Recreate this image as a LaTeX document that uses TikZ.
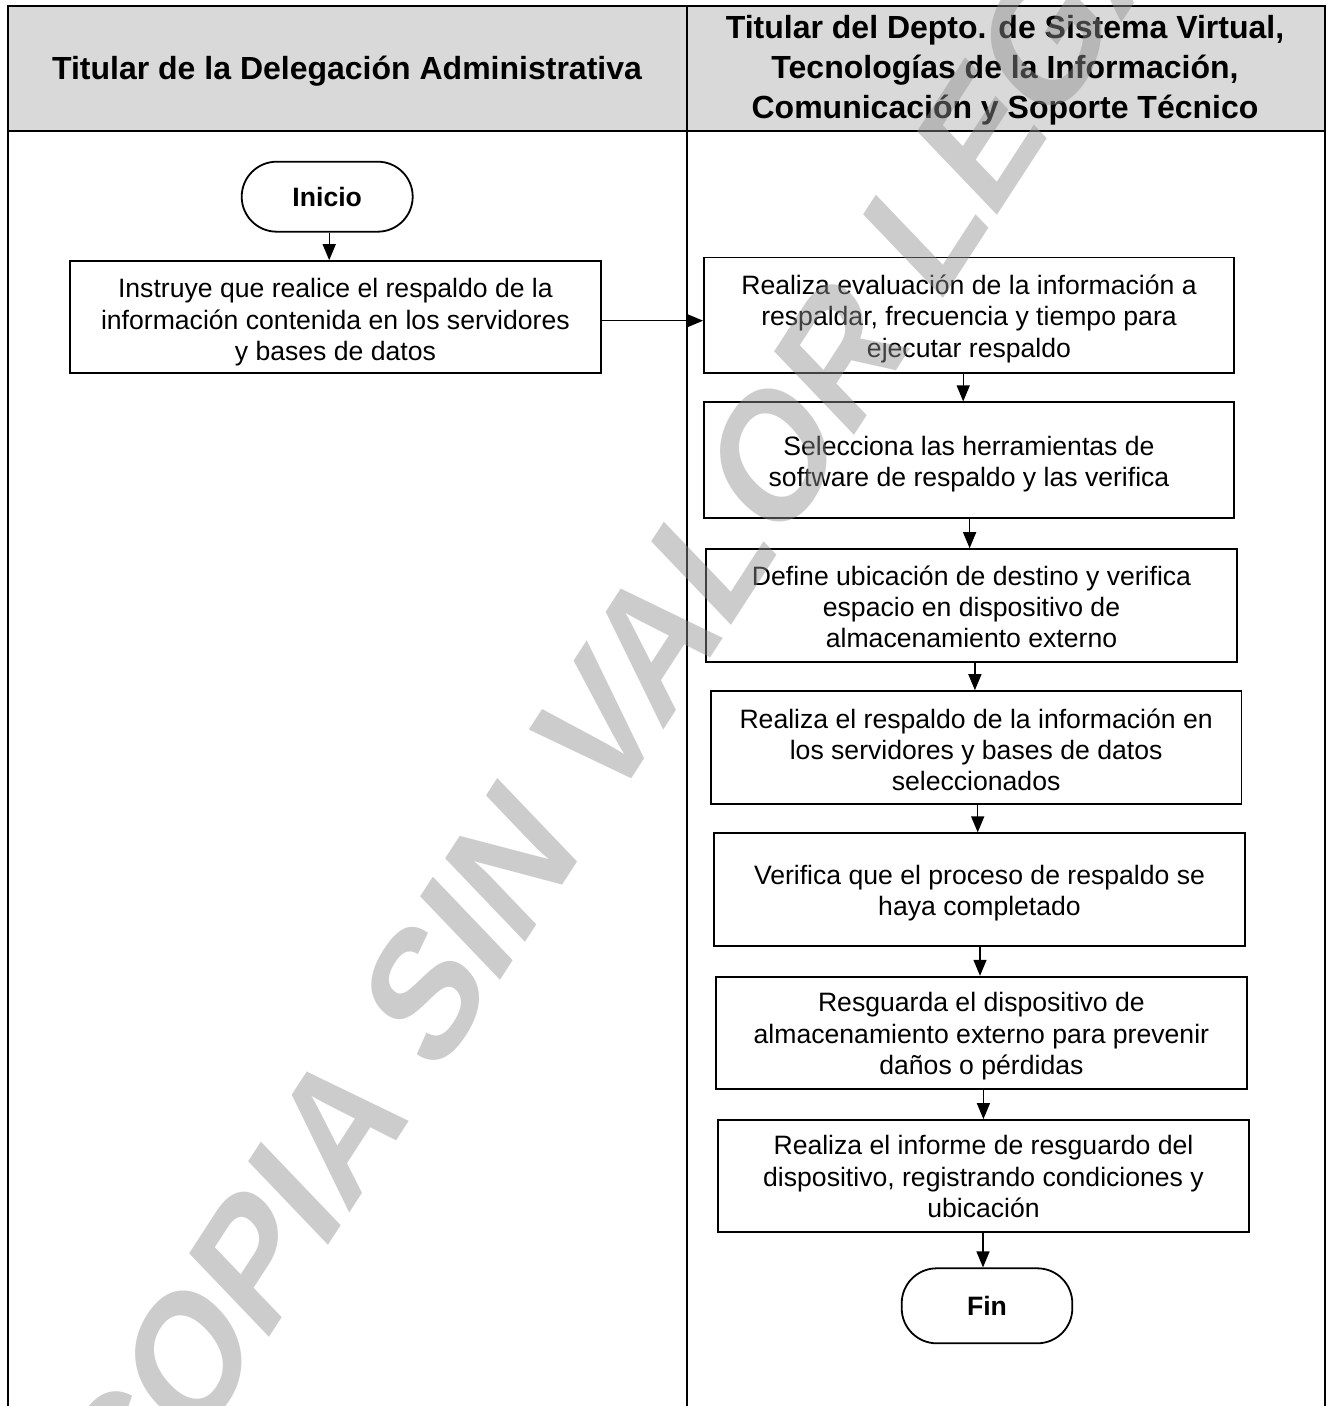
\documentclass[tikz,border=0pt]{standalone}
\usepackage{fontspec}
\setmainfont{Liberation Sans}
\usetikzlibrary{arrows.meta}
\definecolor{hdr}{RGB}{217,217,217}
\definecolor{wm}{RGB}{142,142,142}
\tikzset{
 laneline/.style={line width=1.4pt},
 proc/.style={draw, line width=0.9pt, inner sep=0pt},
 ptext/.style={align=center, inner sep=0pt, font=\fontsize{13.3}{15.6}\selectfont},
 term/.style={draw, line width=0.9pt, rounded corners=17.5pt, inner sep=0pt, font=\fontsize{13.3}{16}\selectfont\bfseries},
 hdrtext/.style={align=center, inner sep=0pt, font=\fontsize{16}{20}\selectfont\bfseries},
 flow/.style={line width=0.7pt, -{Triangle[length=8pt,width=6.5pt]}},
 wmark/.style={inner sep=0pt, text=wm, text opacity=0.45, font=\fontsize{20}{24}\selectfont\bfseries}
}
\begin{document}
\begin{tikzpicture}[x=0.5pt,y=-0.5pt]
\useasboundingbox (0,0) rectangle (1330,1406);
% swimlanes
\fill[hdr] (8,6) rectangle (1325,131);
\draw[laneline] (8,1412) -- (8,6) -- (1325,6) -- (1325,1412);
\draw[laneline] (8,131) -- (1325,131);
\draw[laneline] (687,6) -- (687,1412);
\node[hdrtext] (h1) at (347,71) {Titular de la Delegación Administrativa};
\node[hdrtext] (h2) at (1005,70) {Titular del Depto. de Sistema Virtual,\\Tecnologías de la Información,\\Comunicación y Soporte Técnico};
% nodes
\node[term, minimum width=85.5pt, minimum height=35pt] (ini) at (327.2,196.7) {Inicio};
\node[proc, minimum width=265.3pt, minimum height=56pt] (b1) at (335.4,317.1) {};
\node[ptext, yshift=-2.6pt] (t1) at (b1) {Instruye que realice el respaldo de la\\información contenida en los servidores\\y bases de datos};
\node[proc, minimum width=265pt, minimum height=57.6pt] (b2) at (969,315.2) {};
\node[ptext, yshift=-1.8pt] (t2) at (b2) {Realiza evaluación de la información a\\respaldar, frecuencia y tiempo para\\ejecutar respaldo};
\node[proc, minimum width=265pt, minimum height=57.7pt] (b3) at (969,460) {};
\node[ptext, yshift=-2pt] (t3) at (b3) {Selecciona las herramientas de\\software de respaldo y las verifica};
\node[proc, minimum width=265.5pt, minimum height=56.3pt] (b4) at (971.5,605.4) {};
\node[ptext, yshift=-0.7pt] (t4) at (b4) {Define ubicación de destino y verifica\\espacio en dispositivo de\\almacenamiento externo};
\node[proc, minimum width=265.4pt, minimum height=56.5pt] (b5) at (976.1,747.6) {};
\node[ptext, yshift=-1.2pt] (t5) at (b5) {Realiza el respaldo de la información en\\los servidores y bases de datos\\seleccionados};
\node[proc, minimum width=265.8pt, minimum height=56.2pt] (b6) at (979.5,889.5) {};
\node[ptext, yshift=-2pt] (t6) at (b6) {Verifica que el proceso de respaldo se\\haya completado};
\node[proc, minimum width=265.8pt, minimum height=56pt] (b7) at (981.4,1032.7) {};
\node[ptext, yshift=-1.8pt] (t7) at (b7) {Resguarda el dispositivo de\\almacenamiento externo para prevenir\\daños o pérdidas};
\node[proc, minimum width=265.6pt, minimum height=56pt] (b8) at (983.5,1176) {};
\node[ptext, yshift=-0.3pt] (t8) at (b8) {Realiza el informe de resguardo del\\dispositivo, registrando condiciones y\\ubicación};
\node[term, minimum width=85.3pt, minimum height=37.5pt] (fin) at (987,1305.8) {Fin};
% connectors
\draw[flow] ([xshift=1pt]ini.south) -- ([xshift=1pt]ini.south |- b1.north);
\draw[flow] ([yshift=-1.8pt]b1.east) -- ([yshift=-1.8pt]b1.east -| b2.west);
\draw[flow] ([xshift=-2.9pt]b2.south) -- ([xshift=-2.9pt]b2.south |- b3.north);
\draw[flow] ([xshift=0.3pt]b3.south) -- ([xshift=0.3pt]b3.south |- b4.north);
\draw[flow] ([xshift=1.7pt]b4.south) -- ([xshift=1.7pt]b4.south |- b5.north);
\draw[flow] ([xshift=0.8pt]b5.south) -- ([xshift=0.8pt]b5.south |- b6.north);
\draw[flow] ([xshift=0.25pt]b6.south) -- ([xshift=0.25pt]b6.south |- b7.north);
\draw[flow] ([xshift=1pt]b7.south) -- ([xshift=1pt]b7.south |- b8.north);
\draw[flow] ([xshift=-0.25pt]b8.south) -- ([xshift=-0.25pt]b8.south |- fin.north);
% watermark
\begin{scope}
\clip (0,0) rectangle (1330,1406);
\node[wmark, transform shape, cm={2.219,3.418,-2.902,3.036,(0,0)}] (wmk) at (644,656) {COPIA SIN VALOR LEGAL};
\end{scope}
\end{tikzpicture}
\end{document}
